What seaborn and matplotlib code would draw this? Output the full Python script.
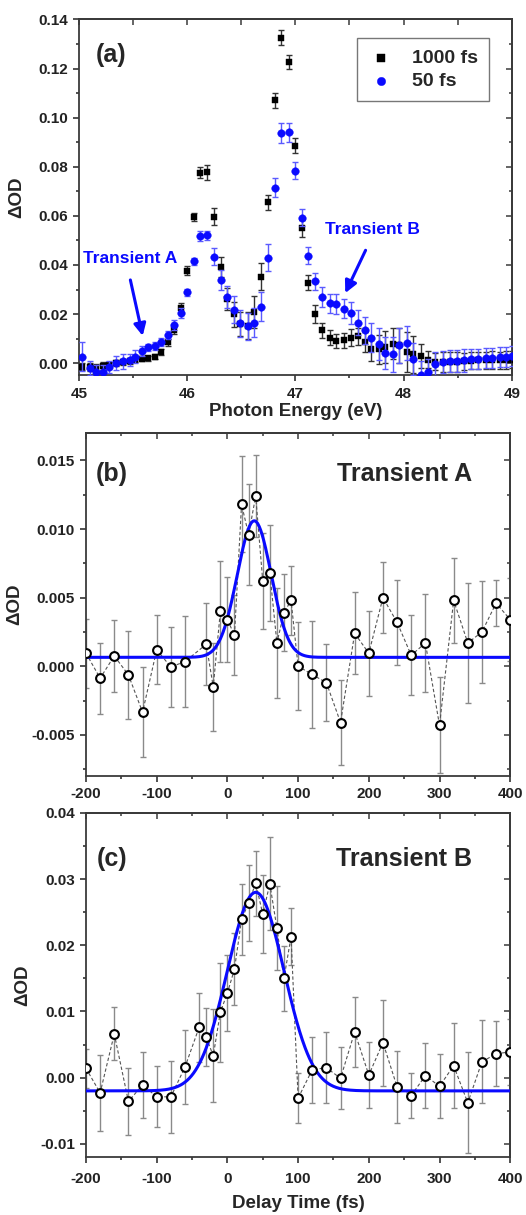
import numpy as np
import matplotlib
matplotlib.use('Agg')
import matplotlib.pyplot as plt
from matplotlib.ticker import MultipleLocator
import seaborn as sns
import pandas as pd

# ---- panel (a): spectra ----
energy = [45.03, 45.10, 45.16, 45.22, 45.28, 45.34, 45.41, 45.47, 45.52, 45.58, 45.64, 45.70, 45.76, 45.82, 45.88, 45.94,
          46.00, 46.06, 46.12, 46.18, 46.25, 46.31, 46.37, 46.43, 46.49, 46.56, 46.62, 46.68, 46.75, 46.81, 46.87, 46.94,
          47.00, 47.06, 47.12,
          47.18, 47.25, 47.32, 47.38, 47.45, 47.51, 47.58, 47.64, 47.70, 47.77, 47.83, 47.90, 47.96, 48.03, 48.09, 48.16,
          48.23, 48.29, 48.36, 48.43, 48.49, 48.56, 48.62, 48.69, 48.76, 48.82, 48.89, 48.95, 49.00]

od_1000 = [-0.0014, -0.0016, -0.0020, -0.0012, -0.0006, -0.0001, 0.0004, 0.0008, 0.0014, 0.0018, 0.0020, 0.0027, 0.0045, 0.0085, 0.0134, 0.0225,
           0.0376, 0.0596, 0.0776, 0.0778, 0.0597, 0.0392, 0.0263, 0.0199, 0.0160, 0.0152, 0.0208, 0.0351, 0.0655, 0.1070, 0.1325, 0.1227,
           0.0886, 0.0549, 0.0328,
           0.0200, 0.0134, 0.0104, 0.0090, 0.0093, 0.0103, 0.0109, 0.0086, 0.0059, 0.0056, 0.0065, 0.0080, 0.0072, 0.0046, 0.0036, 0.0029,
           0.0014, 0.0006, 0.0004, 0.0005, 0.0006, 0.0008, 0.0010, 0.0011, 0.0012, 0.0013, 0.0012, 0.0013, 0.0014]
err_1000 = [0.0015, 0.0015, 0.0015, 0.0015, 0.0012, 0.0012, 0.0010, 0.0010, 0.0010, 0.0010, 0.0010, 0.0010, 0.0012, 0.0014, 0.0017, 0.0018,
            0.0018, 0.0015, 0.0022, 0.0030, 0.0035, 0.0040, 0.0045, 0.0050, 0.0050, 0.0055, 0.0065, 0.0055, 0.0030, 0.0030, 0.0030, 0.0030,
            0.0030, 0.0035, 0.0030,
            0.0035, 0.0030, 0.0030, 0.0030, 0.0030, 0.0035, 0.0035, 0.0040, 0.0050, 0.0060, 0.0065, 0.0065, 0.0070, 0.0080, 0.0075, 0.0050,
            0.0035, 0.0035, 0.0040, 0.0040, 0.0040, 0.0035, 0.0035, 0.0035, 0.0035, 0.0035, 0.0035, 0.0035, 0.0035]

od_50 = [0.0027, -0.0020, -0.0037, -0.0037, -0.0016, 0.0001, 0.0007, 0.0014, 0.0027, 0.0049, 0.0065, 0.0070, 0.0086, 0.0115, 0.0155, 0.0204,
         0.0288, 0.0415, 0.0518, 0.0520, 0.0433, 0.0338, 0.0270, 0.0218, 0.0163, 0.0150, 0.0165, 0.0230, 0.0430, 0.0715, 0.0937, 0.0940,
         0.0784, 0.0592, 0.0438,
         0.0333, 0.0270, 0.0243, 0.0240, 0.0222, 0.0206, 0.0165, 0.0134, 0.0104, 0.0077, 0.0040, 0.0036, 0.0072, 0.0083, 0.0018, -0.0050,
         -0.0037, -0.0003, 0.0004, 0.0007, 0.0008, 0.0011, 0.0016, 0.0018, 0.0020, 0.0022, 0.0025, 0.0025, 0.0030]
err_50 = [0.0060, 0.0030, 0.0030, 0.0030, 0.0025, 0.0030, 0.0030, 0.0025, 0.0025, 0.0020, 0.0015, 0.0015, 0.0015, 0.0015, 0.0020, 0.0020,
          0.0015, 0.0015, 0.0020, 0.0020, 0.0035, 0.0040, 0.0045, 0.0055, 0.0055, 0.0055, 0.0060, 0.0060, 0.0055, 0.0040, 0.0040, 0.0040,
          0.0035, 0.0035, 0.0035,
          0.0035, 0.0040, 0.0040, 0.0040, 0.0040, 0.0045, 0.0050, 0.0055, 0.0060, 0.0065, 0.0065, 0.0070, 0.0070, 0.0070, 0.0065, 0.0060,
          0.0055, 0.0050, 0.0045, 0.0045, 0.0045, 0.0045, 0.0040, 0.0040, 0.0040, 0.0040, 0.0040, 0.0040, 0.0040]

# ---- panel (b): transient A kinetics ----
time_b = [-200, -180, -160, -140, -120, -100, -80, -60, -30, -20, -10, 0, 10, 20, 30, 40, 50, 60, 70, 80, 90, 100,
          120, 140, 160, 180, 200, 220, 240, 260, 280, 300, 320, 340, 360, 380, 400]
od_b = [0.00095, -0.00087, 0.00075, -0.00063, -0.00335, 0.0012, -0.00005, 0.00034, 0.0016, -0.0015, 0.0040, 0.0034, 0.00226,
        0.0118, 0.0096, 0.0124, 0.0062, 0.0068, 0.0017, 0.0039, 0.0048, 0.0000,
        -0.0006, -0.0012, -0.0041, 0.0024, 0.00095, 0.0050, 0.0032, 0.0008, 0.0017, -0.0043, 0.0048, 0.0017, 0.0025, 0.0046, 0.0034]
err_b = [0.0025, 0.0026, 0.0026, 0.0032, 0.0033, 0.0025, 0.0029, 0.0033, 0.0030, 0.0032, 0.0037, 0.0031, 0.0029,
         0.0035, 0.0037, 0.0030, 0.0035, 0.0035, 0.0040, 0.0028, 0.0025, 0.0032,
         0.0039, 0.0028, 0.0031, 0.0030, 0.0031, 0.0026, 0.0031, 0.0029, 0.0036, 0.0035, 0.0031, 0.0044, 0.0037, 0.0017, 0.0030]
fit_b_base, fit_b_amp, fit_b_t0, fit_b_sigma = 0.00065, 0.00995, 38.0, 24.0

# ---- panel (c): transient B kinetics ----
time_c = [-200, -180, -160, -140, -120, -100, -80, -60, -40, -30, -20, -10, 0, 10, 20, 30, 40, 50, 60, 70, 80, 90, 100,
          120, 140, 160, 180, 200, 220, 240, 260, 280, 300, 320, 340, 360, 380, 400]
od_c = [0.0014, -0.0023, 0.0066, -0.0036, -0.0011, -0.0029, -0.0029, 0.0016, 0.0076, 0.0061, 0.0033, 0.0099, 0.0128,
        0.0164, 0.0239, 0.0264, 0.0294, 0.0247, 0.0293, 0.0226, 0.0150, 0.0213, -0.0031,
        0.0012, 0.0015, -0.0001, 0.0069, 0.0004, 0.0053, -0.0014, -0.0027, 0.0003, -0.0013, 0.0018, -0.0038, 0.0024, 0.0036, 0.0039]
err_c = [0.0030, 0.0057, 0.0040, 0.0050, 0.0050, 0.0046, 0.0054, 0.0056, 0.0052, 0.0044, 0.0070, 0.0075, 0.0057,
         0.0054, 0.0053, 0.0058, 0.0049, 0.0059, 0.0070, 0.0064, 0.0049, 0.0043, 0.0038,
         0.0050, 0.0054, 0.0047, 0.0053, 0.0050, 0.0065, 0.0054, 0.0034, 0.0049, 0.0048, 0.0064, 0.0076, 0.0063, 0.0049, 0.0050]
fit_c_base, fit_c_amp, fit_c_t0, fit_c_sigma = -0.0020, 0.0300, 40.0, 40.0

BLUE = '#0a0aff'

sns.set_theme(style='ticks')
plt.rcParams['font.family'] = ['Liberation Sans', 'DejaVu Sans']
plt.rcParams['font.weight'] = 'bold'
plt.rcParams['axes.labelweight'] = 'bold'
plt.rcParams['axes.unicode_minus'] = False


def style_axes(ax):
    for sp in ax.spines.values():
        sp.set_color('#3a3a3a')
        sp.set_linewidth(1.3)
    ax.tick_params(which='both', labelsize=11, colors='#222222', width=1.1, direction='out',
                   top=False, right=False)
    ax.tick_params(which='major', length=4.5)
    ax.tick_params(which='minor', length=2.5)
    for lbl in ax.get_xticklabels() + ax.get_yticklabels():
        lbl.set_fontweight('bold')


def inward_mirror(ax, xminor, yminor):
    # Origin style: outward ticks on left/bottom, inward on top/right
    sec_x = ax.secondary_xaxis('top')
    sec_x.tick_params(which='both', direction='in', labeltop=False, color='#3a3a3a', width=1.1)
    sec_x.tick_params(which='major', length=4.5)
    sec_x.tick_params(which='minor', length=2.5)
    sec_x.xaxis.set_minor_locator(MultipleLocator(xminor))
    sec_y = ax.secondary_yaxis('right')
    sec_y.tick_params(which='both', direction='in', labelright=False, color='#3a3a3a', width=1.1)
    sec_y.tick_params(which='major', length=4.5)
    sec_y.tick_params(which='minor', length=2.5)
    sec_y.yaxis.set_minor_locator(MultipleLocator(yminor))
    for sp in list(sec_x.spines.values()) + list(sec_y.spines.values()):
        sp.set_color('#3a3a3a')
        sp.set_linewidth(1.3)


fig = plt.figure(figsize=(5.26, 12.15), dpi=100)

# ---------------- (a) ----------------
ax = fig.add_axes([0.150, 0.691, 0.823, 0.293])
df_a = pd.DataFrame({'E': energy, 'od1000': od_1000, 'e1000': err_1000, 'od50': od_50, 'e50': err_50})

ax.errorbar(df_a['E'], df_a['od1000'], yerr=df_a['e1000'], fmt='none', ecolor='#333333',
            elinewidth=1.0, capsize=2.2, capthick=1.0, zorder=2)
sns.scatterplot(data=df_a, x='E', y='od1000', marker='s', s=24, color='black', edgecolor='black',
                linewidth=0.3, ax=ax, zorder=3, label='1000 fs')
ax.errorbar(df_a['E'], df_a['od50'], yerr=df_a['e50'], fmt='none', ecolor='#5a5aff',
            elinewidth=1.0, capsize=2.2, capthick=1.0, zorder=4)
sns.scatterplot(data=df_a, x='E', y='od50', marker='o', s=30, color=BLUE, edgecolor=BLUE,
                linewidth=0.3, ax=ax, zorder=5, label='50 fs')

ax.set_xlim(45, 49)
ax.set_ylim(-0.005, 0.14)
ax.xaxis.set_major_locator(MultipleLocator(1))
ax.xaxis.set_minor_locator(MultipleLocator(0.5))
ax.yaxis.set_major_locator(MultipleLocator(0.02))
ax.yaxis.set_minor_locator(MultipleLocator(0.01))
ax.yaxis.set_major_formatter(matplotlib.ticker.FormatStrFormatter('%.2f'))
ax.set_xlabel('Photon Energy (eV)', fontsize=13.5, fontweight='bold', labelpad=2)
ax.set_ylabel('ΔOD', fontsize=13.5, fontweight='bold', labelpad=9)
style_axes(ax)
inward_mirror(ax, 0.5, 0.01)

leg = ax.legend(loc='upper right', bbox_to_anchor=(0.947, 0.947), borderaxespad=0, frameon=True,
                fancybox=False, edgecolor='#555555', fontsize=14, handletextpad=0.9, borderpad=0.55,
                labelspacing=0.3, markerscale=1.1, handlelength=1.4)
leg.get_frame().set_linewidth(1.0)
for t in leg.get_texts():
    t.set_fontweight('bold')

ax.text(45.3, 0.1257, '(a)', fontsize=18, fontweight='bold', ha='center', va='center')
ax.text(45.47, 0.0426, 'Transient A', fontsize=12.5, fontweight='bold', color=BLUE, ha='center', va='center')
ax.text(47.71, 0.0545, 'Transient B', fontsize=12.5, fontweight='bold', color=BLUE, ha='center', va='center')
ax.annotate('', xy=(45.595, 0.0100), xytext=(45.47, 0.0350),
            arrowprops=dict(arrowstyle='-|>,head_length=0.6,head_width=0.3', color=BLUE, lw=2.2))
ax.annotate('', xy=(47.45, 0.0275), xytext=(47.66, 0.0470),
            arrowprops=dict(arrowstyle='-|>,head_length=0.6,head_width=0.3', color=BLUE, lw=2.2))


def kinetics_panel(rect, t, od, err, fit, ylim, ymaj, ymin, fmt, label, title, label_y):
    axk = fig.add_axes(rect)
    df = pd.DataFrame({'t': t, 'od': od, 'err': err})
    axk.errorbar(df['t'], df['od'], yerr=df['err'], fmt='none', ecolor='#8a8a8a',
                 elinewidth=1.0, capsize=2.3, capthick=1.0, zorder=2)
    sns.lineplot(data=df, x='t', y='od', color='#555555', lw=0.8, ax=axk, zorder=3,
                 dashes=False, linestyle=(0, (3, 2)))
    base, amp, t0, sig = fit
    tt = np.linspace(-200, 400, 601)
    df_fit = pd.DataFrame({'t': tt, 'fit': base + amp * np.exp(-(tt - t0) ** 2 / (2 * sig ** 2))})
    sns.lineplot(data=df_fit, x='t', y='fit', color=BLUE, lw=2.2, ax=axk, zorder=4)
    sns.scatterplot(data=df, x='t', y='od', marker='o', s=40, facecolor='white', edgecolor='black',
                    linewidth=1.5, ax=axk, zorder=5)
    axk.set_xlim(-200, 400)
    axk.set_ylim(*ylim)
    axk.xaxis.set_major_locator(MultipleLocator(100))
    axk.xaxis.set_minor_locator(MultipleLocator(50))
    axk.yaxis.set_major_locator(MultipleLocator(ymaj))
    axk.yaxis.set_minor_locator(MultipleLocator(ymin))
    axk.yaxis.set_major_formatter(matplotlib.ticker.FormatStrFormatter(fmt))
    axk.set_ylabel('ΔOD', fontsize=13.5, fontweight='bold', labelpad=6)
    axk.set_xlabel('')
    style_axes(axk)
    inward_mirror(axk, 50, ymin)
    axk.text(-163.6, label_y, label, fontsize=18, fontweight='bold', ha='center', va='center')
    axk.text(250, label_y, title, fontsize=18, fontweight='bold', ha='center', va='center')
    return axk


ax_b = kinetics_panel([0.1635, 0.3613, 0.8065, 0.2823], time_b, od_b, err_b,
                      (fit_b_base, fit_b_amp, fit_b_t0, fit_b_sigma), (-0.008, 0.017), 0.005, 0.0025,
                      '%.3f', '(b)', 'Transient A', 0.0140)
ax_c = kinetics_panel([0.1635, 0.0477, 0.8065, 0.2832], time_c, od_c, err_c,
                      (fit_c_base, fit_c_amp, fit_c_t0, fit_c_sigma), (-0.012, 0.04), 0.01, 0.005,
                      '%.2f', '(c)', 'Transient B', 0.0330)
ax_c.tick_params(axis='x', pad=6)
ax_c.set_xlabel('Delay Time (fs)', fontsize=13.5, fontweight='bold', labelpad=7)

fig.savefig('out.png', dpi=100)
